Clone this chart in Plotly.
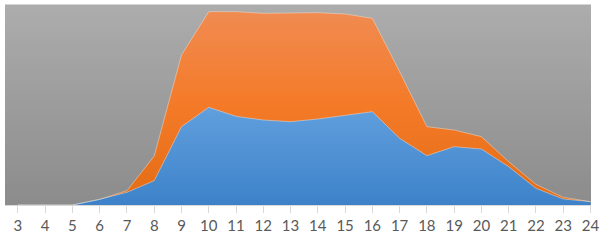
import plotly.graph_objects as go

hours = [3, 4, 5, 6, 7, 8, 9, 10, 11, 12, 13, 14, 15, 16, 17, 18, 19, 20, 21, 22, 23, 24]
blue_vals = [0, 0, 0, 17, 38, 73, 235, 293, 266, 255, 250, 258, 270, 280, 200, 148, 175, 168, 115, 50, 18, 10]
orange_vals = [0, 0, 0, 0, 5, 74, 215, 287, 314, 320, 326, 319, 303, 280, 200, 87, 50, 37, 15, 12, 5, 0]

fig = go.Figure()
fig.add_trace(go.Scatter(
    x=hours, y=blue_vals, stackgroup="s", mode="lines",
    line=dict(color="rgba(225,235,245,0.55)", width=0.8),
    fillgradient=dict(type="vertical", start=0, stop=600,
                      colorscale=[[0, "#3d82c9"], [0.5, "#62a0de"], [1, "#6aa8e2"]]),
    hoverinfo="skip",
))
fig.add_trace(go.Scatter(
    x=hours, y=orange_vals, stackgroup="s", mode="lines",
    line=dict(color="rgba(245,225,210,0.6)", width=0.8),
    fillgradient=dict(type="vertical", start=0, stop=600,
                      colorscale=[[0, "#e36c14"], [0.5, "#f47a28"], [1, "#f08c54"]]),
    hoverinfo="skip",
))

# background gradient bands (styling only)
shapes = []
n = 40
top = (172, 172, 172)
bot = (140, 140, 140)
for i in range(n):
    t = i / (n - 1)
    c = tuple(int(round(bot[k] + (top[k] - bot[k]) * t)) for k in range(3))
    shapes.append(dict(type="rect", xref="paper", yref="paper",
                       x0=0, x1=1, y0=i / n, y1=(i + 1) / n + 0.002,
                       fillcolor="rgb(%d,%d,%d)" % c, line=dict(width=0), layer="below"))

fig.update_layout(
    width=604, height=241,
    margin=dict(l=5, r=10, t=5, b=36),
    paper_bgcolor="white",
    plot_bgcolor="#9c9c9c",
    showlegend=False,
    shapes=shapes,
    xaxis=dict(range=[2.526, 24.02], tickmode="array", tickvals=hours,
               ticktext=[str(h) for h in hours], showgrid=False, zeroline=False,
               showline=True, linecolor="#d9d9d9", linewidth=1,
               ticks="outside", ticklen=7, tickcolor="#d9d9d9",
               tickfont=dict(family="Lato, Open Sans, sans-serif", size=15, color="#595959")),
    yaxis=dict(range=[0, 600], showgrid=False, zeroline=False, showticklabels=False,
               showline=False),
)

fig.write_html("out.html", config={"displayModeBar": False},
               post_script="document.body.style.margin='0';document.body.style.overflow='hidden';")
